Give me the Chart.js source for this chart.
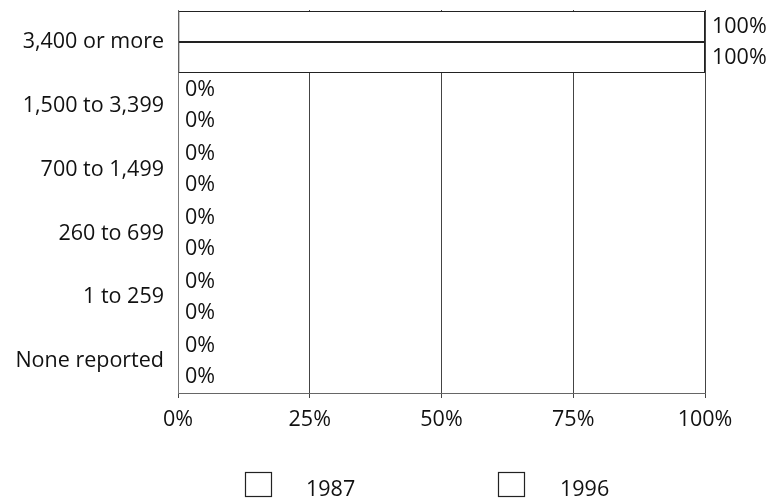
<!DOCTYPE html>
<html>
<head>
<meta charset="utf-8">
<script src="https://cdn.jsdelivr.net/npm/chart.js@4/dist/chart.umd.min.js"></script>
<style>
  html, body { margin: 0; padding: 0; background: #fff; }
  #wrap { width: 783px; height: 500px; }
</style>
</head>
<body>
<div id="wrap"><canvas id="myChart" width="783" height="500"></canvas></div>
<script>
const categories = ["3,400 or more", "1,500 to 3,399", "700 to 1,499", "260 to 699", "1 to 259", "None reported"];
const seriesNames = ["1987", "1996"];
const values1987 = [100, 0, 0, 0, 0, 0];
const values1996 = [100, 0, 0, 0, 0, 0];
const xTicks = [0, 25, 50, 75, 100];

const FONT = "'Open Sans', 'DejaVu Sans', sans-serif";
const FSIZE = 21.5;

// value labels to the right of each bar end
const valueLabels = {
    id: 'value_labels',
    afterDatasetsDraw: (chart) => {
        const ctx = chart.ctx;
        ctx.save();
        ctx.font = FSIZE + 'px ' + FONT;
        ctx.fillStyle = '#111';
        ctx.textAlign = 'left';
        ctx.textBaseline = 'middle';
        chart.data.datasets.forEach((ds, i) => {
            const meta = chart.getDatasetMeta(i);
            meta.data.forEach((bar, j) => {
                ctx.fillText(ds.data[j] + '%', bar.x + 7, bar.y);
            });
        });
        ctx.restore();
    }
};

// legend with the wide box-to-text gap of the original
const customLegend = {
    id: 'custom_legend',
    afterDraw: (chart) => {
        const ctx = chart.ctx;
        const spots = [[245, 306], [498, 560]];
        ctx.save();
        ctx.font = FSIZE + 'px ' + FONT;
        ctx.fillStyle = '#111';
        ctx.textBaseline = 'middle';
        chart.data.datasets.forEach((ds, i) => {
            ctx.strokeStyle = '#222';
            ctx.lineWidth = 1.2;
            ctx.strokeRect(spots[i][0] + 0.5, 472.5, 26, 24);
            ctx.fillText(ds.label, spots[i][1], 490);
        });
        ctx.restore();
    }
};

const plugin = {
    id: 'custom_canvas_background_color',
    beforeDraw: (chart) => {
        const ctx = chart.canvas.getContext('2d');
        ctx.save();
        ctx.globalCompositeOperation = 'destination-over';
        ctx.fillStyle = 'white';
        ctx.fillRect(0, 0, chart.width, chart.height);
        ctx.restore();
    }
};

const barStyle = {
    backgroundColor: '#ffffff',
    borderColor: '#222',
    borderWidth: (c) => c.raw > 0 ? 1 : 0,
    borderSkipped: false,
    barPercentage: 1,
    categoryPercentage: 0.97
};

var ctx = document.getElementById("myChart").getContext("2d");
var myChart = new Chart(ctx, {
    type: "bar",
    plugins: [plugin, valueLabels, customLegend],
    data: {
        labels: categories,
        datasets: [
            Object.assign({ label: seriesNames[0], data: values1987 }, barStyle),
            Object.assign({ label: seriesNames[1], data: values1996 }, barStyle)
        ]
    },
    options: {
        indexAxis: 'y',
        responsive: false,
        animation: false,
        layout: { padding: { top: 10, right: 78, bottom: 67, left: 0 } },
        plugins: {
            legend: { display: false },
            tooltip: { enabled: false }
        },
        scales: {
            x: {
                min: 0,
                max: 100,
                afterBuildTicks: (axis) => { axis.ticks = xTicks.map(v => ({ value: v })); },
                afterFit: (axis) => { axis.height = 40; },
                ticks: {
                    color: '#111',
                    font: { family: FONT, size: FSIZE },
                    padding: 9,
                    callback: (v) => v + '%'
                },
                grid: {
                    color: '#444',
                    lineWidth: 1,
                    tickLength: 5
                },
                border: { color: '#666' }
            },
            y: {
                afterFit: (axis) => {
                    axis.width = 178;
                    axis.paddingTop = 0;
                    axis.paddingBottom = 0;
                },
                ticks: {
                    color: '#111',
                    font: { family: FONT, size: FSIZE },
                    padding: 14
                },
                grid: { display: false, drawTicks: false },
                border: { color: '#777' }
            }
        }
    }
});
</script>
</body>
</html>
